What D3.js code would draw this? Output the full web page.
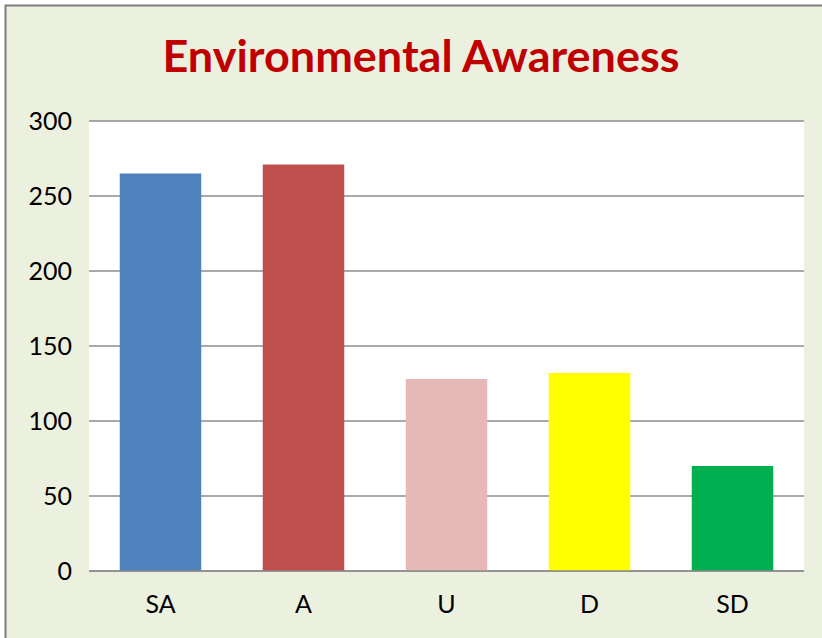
<!DOCTYPE html>
<html>
<head>
<meta charset="utf-8">
<script src="https://cdn.jsdelivr.net/npm/d3@7"></script>
<style>
  html, body { margin: 0; padding: 0; background: #fff; }
  svg { display: block; }
</style>
</head>
<body>
<div id="chart"></div>
<script>
// Environmental Awareness bar chart

const categories = ["SA", "A", "U", "D", "SD"];
const responses = [265, 271, 128, 132, 70];
const barColors = ["#4F81BD", "#C0504D", "#E6B9B8", "#FFFF00", "#00B050"];
const yTicks = [0, 50, 100, 150, 200, 250, 300];

const W = 822, H = 638;
const margin = { top: 121, right: 18, bottom: 67, left: 89 };
const width = W - margin.left - margin.right,
      height = H - margin.top - margin.bottom;

const svg = d3.select("#chart")
  .append("svg")
  .attr("width", W)
  .attr("height", H);

// chart area background + border
svg.append("rect")
  .attr("x", 5.5).attr("y", 5.5)
  .attr("width", W + 10).attr("height", H + 10)
  .attr("fill", "#EBF0DF")
  .attr("stroke", "#7F7F7F")
  .attr("stroke-width", 2);

const g = svg.append("g")
  .attr("transform", `translate(${margin.left},${margin.top})`);

g.append("rect")
  .attr("width", width)
  .attr("height", height)
  .attr("fill", "#fff");

const x = d3.scaleBand()
  .domain(categories)
  .range([0, width])
  .paddingInner(0.43)
  .paddingOuter(0.215);

const y = d3.scaleLinear()
  .domain([0, 300])
  .range([height, 0]);

// gridlines
g.append("g")
  .selectAll("line")
  .data(yTicks)
  .enter()
  .append("line")
  .attr("x1", 0)
  .attr("x2", width)
  .attr("y1", d => y(d))
  .attr("y2", d => y(d))
  .attr("stroke", "#8C8C8C")
  .attr("stroke-width", 1.5);

g.selectAll(".bar")
  .data(categories)
  .enter()
  .append("rect")
  .attr("class", "bar")
  .attr("x", d => x(d))
  .attr("y", (d, i) => y(responses[i]))
  .attr("width", x.bandwidth())
  .attr("height", (d, i) => height - y(responses[i]))
  .attr("fill", (d, i) => barColors[i]);

// baseline on top of bars
g.append("line")
  .attr("x1", 0).attr("x2", width)
  .attr("y1", y(0)).attr("y2", y(0))
  .attr("stroke", "#8C8C8C")
  .attr("stroke-width", 1.5);

const font = "Lato, 'Open Sans', sans-serif";

// y axis
const yAxis = g.append("g")
  .call(d3.axisLeft(y).tickValues(yTicks).tickSize(0).tickPadding(17));
yAxis.select(".domain").remove();
yAxis.selectAll("text")
  .style("font-family", font)
  .style("font-size", "25px")
  .attr("fill", "#000");

// x axis
const xAxis = g.append("g")
  .attr("transform", `translate(0,${height})`)
  .call(d3.axisBottom(x).tickSize(0).tickPadding(24));
xAxis.select(".domain").remove();
xAxis.selectAll("text")
  .style("font-family", font)
  .style("font-size", "25px")
  .attr("fill", "#000");

svg.append("text")
  .attr("x", 421)
  .attr("y", 72)
  .attr("text-anchor", "middle")
  .attr("textLength", 517)
  .attr("lengthAdjust", "spacingAndGlyphs")
  .style("font-family", font)
  .style("font-size", "44px")
  .style("font-weight", "bold")
  .attr("fill", "#C00000")
  .text("Environmental Awareness");
</script>
</body>
</html>
